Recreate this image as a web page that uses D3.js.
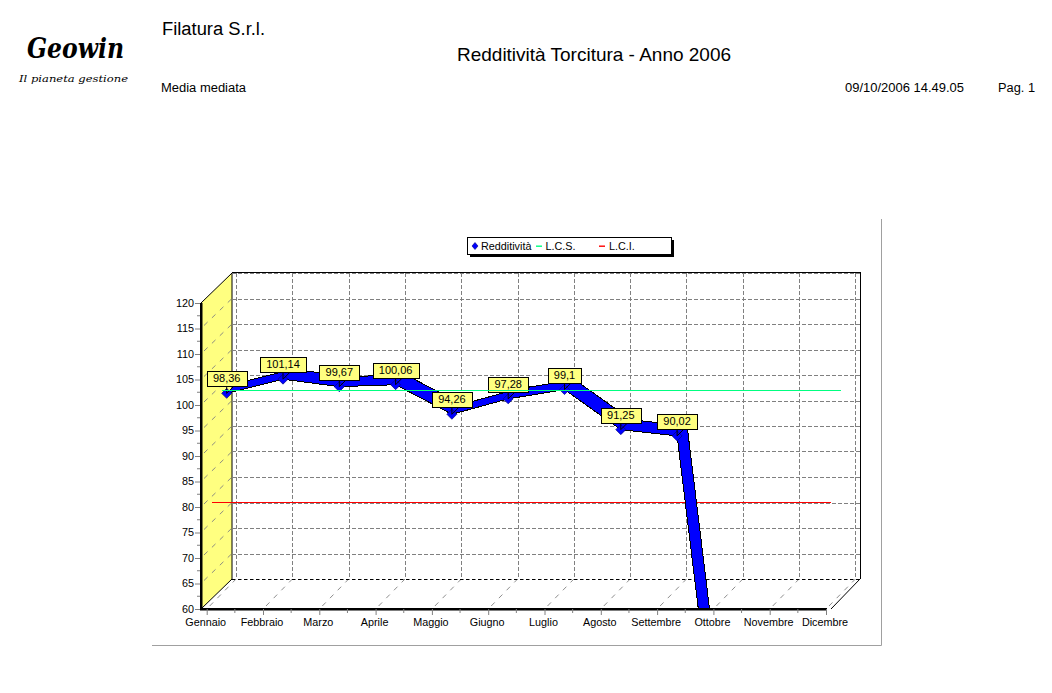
<!DOCTYPE html>
<html><head><meta charset="utf-8">
<script src="https://cdn.jsdelivr.net/npm/d3@7"></script>
<style>html,body{margin:0;padding:0;background:#fff}svg{display:block}text{font-family:"Liberation Sans",Arial,sans-serif;fill:#000}</style>
</head><body><svg id="c" width="1052" height="693"></svg>
<script>
const months=["Gennaio","Febbraio","Marzo","Aprile","Maggio","Giugno","Luglio","Agosto","Settembre","Ottobre","Novembre","Dicembre"];
const redditivita=[98.36,101.14,99.67,100.06,94.26,97.28,99.1,91.25,90.02,0,0,0];
const lcs=[100,100,100,100,100,100,100,100,100,100,100,100];
const lci=[80,80,80,80,80,80,80,80,80,80,80,80];
const valueLabels=["98,36","101,14","99,67","100,06","94,26","97,28","99,1","91,25","90,02"];
const yTicks=d3.range(60,121,5);

const svg=d3.select("#c");
const x=d3.scalePoint().domain(months).range([206.7,826]);
const y=d3.scaleLinear().domain([60,120]).range([609,303]);
const DY=30;
const px=(m,z)=>x(m)+z, py=(v,z)=>y(v)-z;
const backLeft=232, backRight=860, frontLeft=201, frontRight=831;

// titles
const T=(s,xx,yy,size,len)=>svg.append("text").attr("x",xx).attr("y",yy).attr("font-size",size).attr("textLength",len).attr("lengthAdjust","spacingAndGlyphs").text(s);
T("Filatura S.r.l.",162,35,18,103);
T("Redditività Torcitura - Anno 2006",457,61,18.5,274);
T("Media mediata",161,92,12.5,85);
T("09/10/2006 14.49.05",845,92,12.5,119);
T("Pag. 1",998,92,12.5,37);
// logo
svg.append("text").attr("x",27).attr("y",58).attr("font-size",27).attr("font-weight","bold").attr("font-style","italic")
  .attr("textLength",97).attr("lengthAdjust","spacingAndGlyphs").style("font-family","'DejaVu Serif',serif").text("Geowin");
svg.append("text").attr("x",19).attr("y",82).attr("font-size",10).attr("font-style","italic")
  .attr("textLength",109).attr("lengthAdjust","spacingAndGlyphs").style("font-family","'DejaVu Serif',serif").text("Il pianeta gestione");

// page frame
svg.append("path").attr("d","M881.5 219V645.5H152").attr("fill","none").attr("stroke","#a0a0a0");

// left wall
svg.append("path").attr("d",`M${frontLeft} ${y(120)}L${backLeft} ${y(120)-DY}V${y(60)-DY}L${frontLeft} ${y(60)}Z`).attr("fill","#ffff80").attr("stroke","#000");
// diagonal grid on wall and floor
const diag=svg.append("g").attr("fill","none").attr("stroke","#808080").attr("stroke-dasharray","5 6").attr("stroke-width",.9);
yTicks.forEach(v=>{
  if(v<120&&v>60) diag.append("line").attr("x1",frontLeft+3).attr("x2",backLeft).attr("y1",y(v)-3).attr("y2",y(v)-DY);
});
months.forEach(m=>{
  diag.append("line").attr("x1",x(m)+3).attr("x2",x(m)+29.4).attr("y1",y(60)-3).attr("y2",y(60)-DY);
});
// back wall grid
const grid=svg.append("g").attr("fill","none").attr("stroke","#808080").attr("stroke-dasharray","4 2").attr("shape-rendering","crispEdges");
yTicks.forEach(v=>{
  const gy=Math.round(y(v)-DY)+.5;
  grid.append("line").attr("x1",backLeft).attr("x2",backRight).attr("y1",gy).attr("y2",gy);
});
months.forEach(m=>{
  const bx=Math.round(x(m)+29.4)+.5;
  grid.append("line").attr("x1",bx).attr("x2",bx).attr("y1",y(120)-DY).attr("y2",y(60)-DY);
});
// frame
svg.append("path").attr("d",`M${backLeft} ${y(120)-DY-.5}H${backRight+.5}V${y(60)-DY}`).attr("fill","none").attr("stroke","#000").attr("shape-rendering","crispEdges");
svg.append("line").attr("x1",frontRight).attr("x2",backRight).attr("y1",y(60)).attr("y2",y(60)-DY).attr("stroke","#000");
svg.append("line").attr("x1",backLeft).attr("x2",backRight).attr("y1",y(60)-DY+.5).attr("y2",y(60)-DY+.5).attr("stroke","#000").attr("stroke-dasharray","3 3").attr("shape-rendering","crispEdges");

// series, clipped to plot
svg.append("clipPath").attr("id","plot").append("rect").attr("x",frontLeft).attr("y",200).attr("width",700).attr("height",y(60)-200);
const plot=svg.append("g").attr("clip-path","url(#plot)");
const flat=(vals,z,col)=>{
  const l=d3.line().x((d,i)=>px(months[i],z)).y(d=>py(d,z)+.5);
  plot.append("path").attr("d",l(vals)).attr("fill","none").attr("stroke",col).attr("stroke-width",1).attr("shape-rendering","crispEdges");
};
flat(lci,5,"#ff0000");
// ribbon
const ribbon=d3.area().x0((d,i)=>px(months[i],20)).y0(d=>py(d,20)).x1((d,i)=>px(months[i],30)).y1(d=>py(d,30));
plot.append("path").datum(redditivita.slice(0,11)).attr("d",ribbon).attr("fill","#0000ff").attr("stroke","#000").attr("stroke-width",1).attr("shape-rendering","crispEdges");

// markers and callout leaders
const marks=plot.append("g");
valueLabels.forEach((t,i)=>{
  const mx=px(months[i],20), my=py(redditivita[i],20);
  marks.append("path").attr("d",`M${mx} ${my-5}L${mx+5} ${my}L${mx} ${my+5}L${mx-5} ${my}Z`).attr("fill","#0000ff").attr("stroke","#000080").attr("stroke-width",.7);
  marks.append("path").attr("d",`M${mx} ${my}V${my-8}M${mx} ${my}L${mx+8} ${my-8}`).attr("stroke","#000").attr("fill","none");
});

// front axes
svg.append("rect").attr("x",200).attr("y",y(120)).attr("width",2.5).attr("height",y(60)-y(120)).attr("fill","#000");
svg.append("rect").attr("x",200).attr("y",y(60)-1).attr("width",frontRight-200-4).attr("height",2.5).attr("fill","#000");
const yAxis=d3.axisLeft(y).tickValues(yTicks).tickSize(5).tickPadding(1).tickFormat(d3.format("d"));
const ga=svg.append("g").attr("transform","translate(200,0)").call(yAxis);
ga.select(".domain").remove();
ga.selectAll("text").attr("font-size",10.8).style("font-family",'"Liberation Sans",Arial,sans-serif');
ga.selectAll("line").attr("stroke","#808080");
const yMinor=d3.range(60,121,2.5).filter(v=>v%5);
svg.append("g").selectAll("line").data(yMinor).join("line").attr("x1",197).attr("x2",200).attr("y1",d=>y(d)).attr("y2",d=>y(d)).attr("stroke","#808080");
const xAxis=d3.axisBottom(x).tickSize(6).tickPadding(3);
const gx=svg.append("g").attr("transform","translate(0,609)").call(xAxis);
gx.select(".domain").remove();
gx.selectAll("text").attr("font-size",10.8).attr("dx",-1.5).style("font-family",'"Liberation Sans",Arial,sans-serif');
gx.selectAll("line").attr("stroke","#808080");
const xMinor=months.slice(0,-1).map((m,i)=>(x(m)+x(months[i+1]))/2);
svg.append("g").selectAll("line").data(xMinor).join("line").attr("x1",d=>d).attr("x2",d=>d).attr("y1",609).attr("y2",613).attr("stroke","#808080");

// value labels
const labs=svg.append("g");
valueLabels.forEach((t,i)=>{
  const mx=px(months[i],20), my=py(redditivita[i],20);
  const g=labs.append("g");
  const tx=g.append("text").attr("x",mx).attr("y",my-11).attr("font-size",11).attr("text-anchor","middle").text(t);
  const w=Math.round(tx.node().getComputedTextLength()+12);
  g.insert("rect","text").attr("x",Math.round(mx-w/2)+.5).attr("y",Math.round(my-22)+.5).attr("width",w).attr("height",15).attr("fill","#ffff80").attr("stroke","#000");
});
// L.C.S. passes over the callouts
const greenLayer=svg.append("g").attr("clip-path","url(#plot)");
greenLayer.append("path").attr("d",d3.line().x((d,i)=>px(months[i],15)).y(d=>py(d,15)+.5)(lcs)).attr("fill","none").attr("stroke","#00ff80").attr("stroke-width",1).attr("shape-rendering","crispEdges");

// legend
const lg=svg.append("g");
lg.append("rect").attr("x",470).attr("y",240).attr("width",204).attr("height",17).attr("fill","#000");
lg.append("rect").attr("x",467.5).attr("y",237.5).attr("width",204).attr("height",17).attr("fill","#fff").attr("stroke","#000");
const lgItems=[["Redditività",481,"#0000ff",471],["L.C.S.",545.5,"#00ff80",536],["L.C.I.",609,"#ff0000",599]];
lgItems.forEach(([t,tx,c,sx])=>{
  lg.append("text").attr("x",tx).attr("y",250).attr("font-size",10.8).text(t);
  if(c==="#0000ff") lg.append("path").attr("d",`M${sx+4} 242.5L${sx+7} 246L${sx+4} 249.5L${sx+1} 246Z`).attr("fill",c).attr("stroke","#000080").attr("stroke-width",.6);
  else lg.append("rect").attr("x",sx).attr("width",6).attr("y",245.5).attr("height",1.4).attr("fill",c);
});
</script></body></html>
